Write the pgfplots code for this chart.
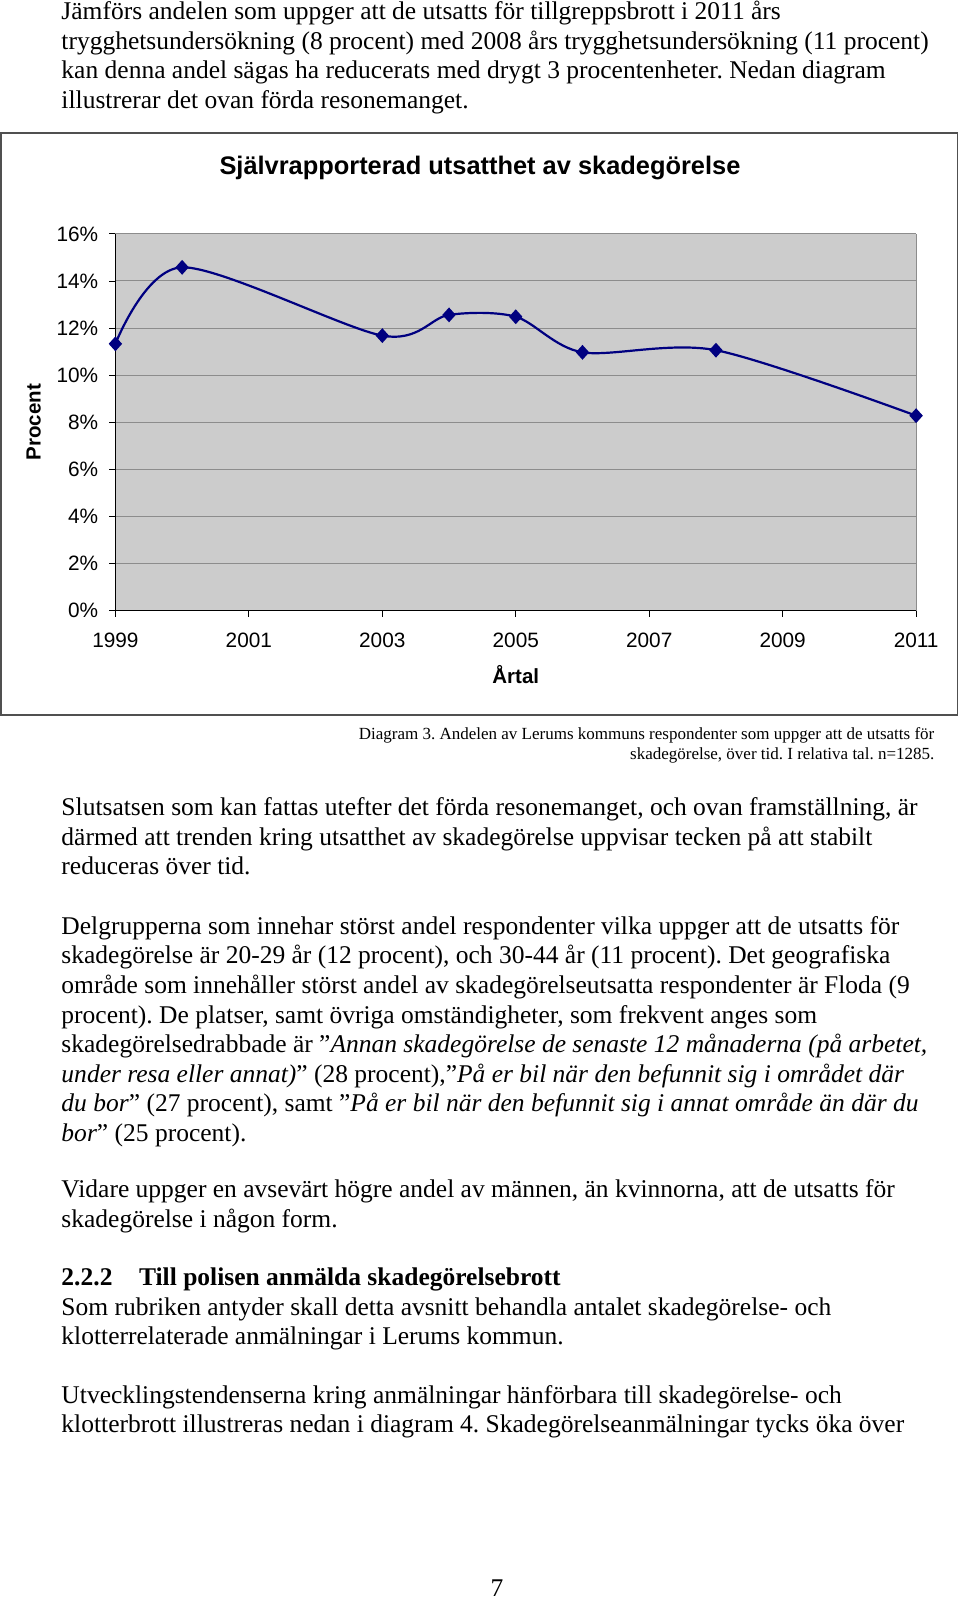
\documentclass[border=0pt]{standalone}
\usepackage{fontspec}
\setmainfont{Liberation Serif}
\newfontfamily\arial{Liberation Sans}
\usepackage{pgfplots}
\pgfplotsset{compat=1.18}
\definecolor{navy}{RGB}{0,0,128}
\definecolor{plotbg}{RGB}{204,204,204}
\definecolor{gridc}{RGB}{140,140,140}
\definecolor{framec}{RGB}{80,80,80}
\newcommand{\body}{\fontsize{25.5bp}{29.6bp}\selectfont\frenchspacing}
\newcommand{\capt}{\fontsize{17bp}{19.5bp}\selectfont\frenchspacing}
\newcommand{\Line}[2]{\node[anchor=base west,inner sep=0pt] at (61.3,1601-#1) {\body #2};}
\begin{document}
\begin{tikzpicture}[x=1bp,y=1bp]
\useasboundingbox (0,0) rectangle (960,1601);
% paragraph 1
\Line{19.5}{Jämförs andelen som uppger att de utsatts för tillgreppsbrott i 2011 års}
\Line{49.1}{trygghetsundersökning (8 procent) med 2008 års trygghetsundersökning (11 procent)}
\Line{78.7}{kan denna andel sägas ha reducerats med drygt 3 procentenheter. Nedan diagram}
\Line{108.3}{illustrerar det ovan förda resonemanget.}
% chart frame
\draw[framec, line width=1.5bp] (1,1601-133) rectangle (957.5,1601-715);
\begin{axis}[
  at={(115.4bp,990.3bp)}, anchor=south west,
  scale only axis, width=800.7bp, height=376.8bp,
  xmin=1999, xmax=2011, ymin=0, ymax=16,
  xtick={1999,2001,2003,2005,2007,2009,2011},
  ytick={0,2,4,6,8,10,12,14,16},
  axis lines*=left,
  axis line style={black, line width=1bp},
  tick align=outside, major tick length=6bp,
  tick style={black, line width=0.8bp},
  ymajorgrids, grid style={gridc, line width=1bp},
  axis background/.style={fill=plotbg},
  clip=false,
  /pgf/number format/assume math mode=true,
  ticklabel style={font=\arial\fontsize{20.8bp}{24bp}\selectfont},
  xticklabel style={/pgf/number format/1000 sep={}, anchor=north, inner sep=0pt, yshift=-16bp},
  yticklabel style={anchor=east, inner sep=0pt, xshift=-11bp},
  yticklabel={\pgfmathprintnumber{\tick}\%},
  title={Självrapporterad utsatthet av skadegörelse},
  title style={at={(axis description cs:0.4553,1.1425)}, anchor=base, inner sep=0pt, yshift=0pt,
    font=\arial\bfseries\fontsize{25.4bp}{30bp}\selectfont},
  xlabel={Årtal},
  xlabel style={at={(axis description cs:0.5,-0.1927)}, anchor=base, inner sep=0pt,
    font=\arial\bfseries\fontsize{20.5bp}{24bp}\selectfont},
  ylabel={Procent},
  ylabel style={at={(axis description cs:-0.102,0.5)}, anchor=center, inner sep=0pt,
    font=\arial\bfseries\fontsize{20.5bp}{24bp}\selectfont},
]
\draw[gridc, line width=1bp] (rel axis cs:1,0) -- (rel axis cs:1,1);
\addplot[navy, line width=2.2bp, smooth, tension=0.5, mark=diamond*, mark size=5.8bp,
  mark options={xscale=1.2, solid, fill=navy}] coordinates {
  (1999,11.33) (2000,14.58) (2003,11.68) (2004,12.56) (2005,12.48)
  (2006,10.97) (2008,11.06) (2011,8.28)
};
\end{axis}
% caption
\node[anchor=base east,inner sep=0pt] at (934.5,1601-740) {\capt Diagram 3. Andelen av Lerums kommuns respondenter som uppger att de utsatts för};
\node[anchor=base east,inner sep=0pt] at (934.5,1601-759.5) {\capt skadegörelse, över tid. I relativa tal. n=1285.};
% paragraph 2
\Line{815.8}{Slutsatsen som kan fattas utefter det förda resonemanget, och ovan framställning, är}
\Line{845.4}{därmed att trenden kring utsatthet av skadegörelse uppvisar tecken på att stabilt}
\Line{875.0}{reduceras över tid.}
% paragraph 3
\Line{934.3}{Delgrupperna som innehar störst andel respondenter vilka uppger att de utsatts för}
\Line{963.9}{skadegörelse är 20-29 år (12 procent), och 30-44 år (11 procent). Det geografiska}
\Line{993.5}{område som innehåller störst andel av skadegörelseutsatta respondenter är Floda (9}
\Line{1023.1}{procent). De platser, samt övriga omständigheter, som frekvent anges som}
\Line{1052.7}{skadegörelsedrabbade är ”\textit{Annan skadegörelse de senaste 12 månaderna (på arbetet,}}
\Line{1082.3}{\textit{under resa eller annat)}” (28 procent),”\textit{På er bil när den befunnit sig i området där}}
\Line{1111.9}{\textit{du bor}” (27 procent), samt ”\textit{På er bil när den befunnit sig i annat område än där du}}
\Line{1141.5}{\textit{bor}” (25 procent).}
% paragraph 4
\Line{1197.8}{Vidare uppger en avsevärt högre andel av männen, än kvinnorna, att de utsatts för}
\Line{1227.4}{skadegörelse i någon form.}
% heading
\Line{1285.6}{\bfseries 2.2.2}
\node[anchor=base west,inner sep=0pt] at (138.9,1601-1285.6) {\body\bfseries Till polisen anmälda skadegörelsebrott};
\Line{1315.2}{Som rubriken antyder skall detta avsnitt behandla antalet skadegörelse- och}
\Line{1344.8}{klotterrelaterade anmälningar i Lerums kommun.}
% paragraph 5
\Line{1403.1}{Utvecklingstendenserna kring anmälningar hänförbara till skadegörelse- och}
\Line{1432.7}{klotterbrott illustreras nedan i diagram 4. Skadegörelseanmälningar tycks öka över}
% page number
\node[anchor=base,inner sep=0pt] at (497,1601-1597) {\body 7};
\end{tikzpicture}
\end{document}
